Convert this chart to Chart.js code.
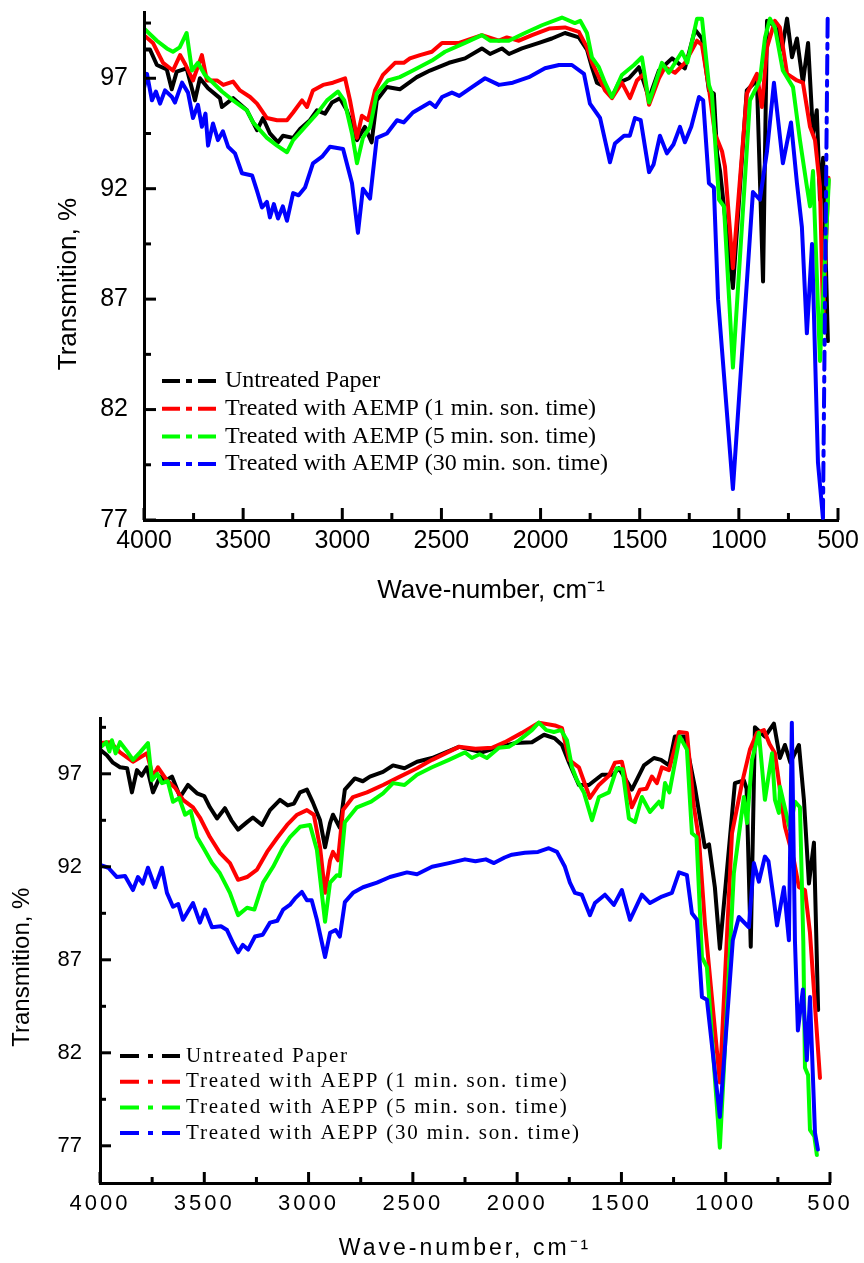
<!DOCTYPE html>
<html>
<head>
<meta charset="utf-8">
<script src="https://cdn.jsdelivr.net/npm/chart.js@4.4.1/dist/chart.umd.min.js"></script>
<style>
  body { margin: 0; background: #fff; }
  canvas { position: absolute; left: 0; }
  #chartAemp { top: 0; }
  #chartAepp { top: 640px; }
</style>
</head>
<body>
<canvas id="chartAemp" width="864" height="625"></canvas>
<canvas id="chartAepp" width="864" height="623"></canvas>
<script>
// tick values
const xMajorTicks = [4000, 3500, 3000, 2500, 2000, 1500, 1000, 500];
const xMinorTicks = [3750, 3250, 2750, 2250, 1750, 1250, 750];
const yMajorTicks = [77, 82, 87, 92, 97];
const yMinorTicks = [79.5, 84.5, 89.5, 94.5, 99.5];

const labelsAemp = ['Untreated Paper', 'Treated with AEMP (1 min. son. time)', 'Treated with AEMP (5 min. son. time)', 'Treated with AEMP (30 min. son. time)'];
const labelsAepp = ['Untreated Paper', 'Treated with AEPP (1 min. son. time)', 'Treated with AEPP (5 min. son. time)', 'Treated with AEPP (30 min. son. time)'];

// [wave-number, transmition %] (AEMP)
const aempUntreated = [[4000, 98.3], [3970, 98.3], [3935, 97.6], [3885, 97.4], [3860, 96.5], [3835, 97.3], [3785, 97.45], [3743, 96.0], [3718, 97.0], [3677, 96.55], [3617, 96.1], [3607, 95.7], [3550, 96.1], [3481, 95.55], [3430, 94.65], [3400, 95.2], [3365, 94.5], [3324, 94.1], [3299, 94.4], [3248, 94.3], [3213, 94.7], [3163, 95.1], [3128, 95.55], [3087, 95.4], [3052, 95.9], [3012, 96.1], [2977, 95.55], [2926, 94.2], [2886, 94.8], [2852, 94.1], [2826, 96.0], [2775, 96.6], [2710, 96.5], [2624, 97.05], [2558, 97.35], [2462, 97.7], [2381, 97.9], [2296, 98.35], [2255, 98.1], [2195, 98.35], [2159, 98.1], [2094, 98.35], [2008, 98.6], [1943, 98.8], [1877, 99.05], [1807, 98.85], [1766, 98.3], [1741, 97.5], [1716, 96.8], [1675, 96.6], [1640, 96.15], [1605, 96.8], [1554, 97.0], [1504, 97.5], [1453, 96.1], [1403, 97.35], [1337, 97.9], [1272, 97.45], [1221, 99.2], [1186, 98.8], [1151, 96.45], [1126, 96.3], [1110, 93.6], [1095, 92.8], [1030, 87.5], [960, 96.45], [909, 96.9], [878, 87.8], [858, 99.6], [808, 99.3], [783, 98.3], [757, 99.7], [732, 97.95], [707, 98.8], [677, 96.8], [651, 98.6], [626, 94.5], [607, 95.55], [591, 91.5], [575, 93.4], [551, 85.1]];
const aemp1min = [[4000, 98.95], [3955, 98.6], [3904, 97.7], [3854, 97.35], [3818, 98.05], [3790, 97.6], [3753, 96.9], [3708, 98.05], [3683, 96.9], [3632, 96.9], [3600, 96.7], [3551, 96.85], [3516, 96.45], [3465, 96.15], [3430, 95.85], [3380, 95.2], [3329, 95.1], [3279, 95.1], [3248, 95.45], [3203, 96.0], [3178, 95.7], [3148, 96.45], [3097, 96.7], [3047, 96.8], [2986, 97.0], [2961, 96.0], [2926, 94.3], [2901, 95.3], [2870, 95.1], [2835, 96.45], [2795, 97.15], [2734, 97.7], [2690, 97.7], [2659, 97.9], [2608, 98.05], [2548, 98.2], [2497, 98.6], [2411, 98.6], [2296, 98.95], [2210, 98.7], [2170, 98.85], [2109, 98.7], [2043, 98.95], [1957, 99.25], [1877, 99.3], [1807, 99.1], [1766, 98.4], [1740, 97.7], [1706, 97.05], [1675, 96.45], [1640, 96.1], [1590, 96.8], [1549, 96.1], [1514, 96.9], [1479, 97.2], [1453, 95.8], [1403, 97.0], [1373, 97.5], [1322, 97.25], [1272, 97.7], [1211, 98.7], [1186, 98.5], [1151, 96.55], [1121, 94.5], [1085, 93.7], [1070, 93.0], [1030, 88.4], [960, 96.3], [909, 97.2], [884, 95.7], [858, 98.4], [818, 99.6], [793, 99.3], [757, 97.2], [707, 96.9], [677, 96.8], [641, 94.8], [616, 94.2], [591, 92.1], [575, 86.0], [548, 92.5]];
const aemp5min = [[4000, 99.25], [3935, 98.7], [3885, 98.35], [3854, 98.2], [3820, 98.4], [3785, 99.05], [3758, 97.35], [3728, 97.7], [3693, 97.15], [3652, 96.8], [3607, 96.4], [3551, 96.0], [3481, 95.55], [3450, 95.0], [3380, 94.3], [3329, 93.95], [3279, 93.65], [3248, 94.2], [3198, 94.7], [3128, 95.4], [3077, 96.0], [3022, 96.4], [2990, 96.0], [2951, 94.5], [2926, 93.15], [2896, 94.3], [2860, 94.8], [2826, 96.3], [2770, 96.9], [2710, 97.05], [2644, 97.35], [2548, 97.8], [2482, 98.2], [2381, 98.6], [2296, 98.95], [2255, 98.7], [2160, 98.7], [2079, 99.05], [1993, 99.4], [1892, 99.75], [1827, 99.5], [1800, 99.6], [1766, 99.05], [1741, 97.95], [1706, 97.5], [1675, 96.8], [1640, 96.15], [1590, 97.15], [1529, 97.6], [1489, 97.95], [1453, 95.9], [1388, 97.7], [1353, 97.25], [1287, 98.2], [1260, 97.7], [1211, 99.7], [1186, 99.7], [1151, 96.7], [1136, 96.3], [1100, 91.5], [1075, 91.2], [1030, 83.9], [944, 96.0], [894, 96.9], [868, 98.85], [843, 99.7], [818, 99.3], [778, 97.35], [727, 96.6], [692, 94.2], [657, 92.1], [641, 91.2], [626, 92.8], [591, 84.2], [546, 92.4]];
const aemp30min = [[4000, 96.55], [3985, 97.2], [3960, 96.0], [3940, 96.4], [3919, 95.85], [3894, 96.45], [3859, 96.15], [3844, 95.9], [3808, 96.8], [3778, 96.35], [3753, 95.2], [3728, 95.8], [3708, 94.8], [3690, 95.4], [3677, 93.95], [3652, 94.95], [3627, 94.2], [3602, 94.6], [3576, 93.9], [3541, 93.6], [3506, 92.7], [3455, 92.6], [3430, 91.9], [3405, 91.15], [3380, 91.4], [3365, 90.7], [3345, 91.3], [3324, 90.65], [3300, 91.2], [3279, 90.55], [3248, 91.8], [3220, 91.7], [3188, 92.05], [3148, 93.15], [3102, 93.45], [3062, 93.9], [2996, 93.8], [2951, 92.25], [2921, 90.0], [2896, 92.0], [2860, 91.55], [2826, 94.3], [2775, 94.5], [2724, 95.1], [2690, 95.0], [2644, 95.45], [2558, 95.9], [2530, 95.7], [2497, 96.15], [2447, 96.35], [2410, 96.2], [2346, 96.6], [2280, 97.0], [2210, 96.7], [2140, 96.8], [2059, 97.05], [1978, 97.45], [1907, 97.6], [1842, 97.6], [1781, 97.2], [1751, 95.85], [1700, 95.2], [1675, 94.2], [1650, 93.2], [1625, 94.05], [1579, 94.4], [1550, 94.4], [1524, 95.2], [1495, 95.1], [1453, 92.75], [1430, 93.1], [1398, 94.4], [1363, 93.6], [1330, 94.0], [1297, 94.8], [1272, 94.1], [1240, 94.8], [1201, 96.15], [1180, 96.0], [1151, 92.25], [1126, 92.05], [1105, 87.0], [1030, 78.4], [929, 91.85], [894, 91.5], [858, 93.7], [823, 96.8], [778, 93.15], [737, 95.0], [707, 92.25], [682, 90.25], [657, 85.45], [631, 89.5], [601, 79.6], [576, 77.1], [552, 99.8]];

// bottom plot (AEPP)
const aeppUntreated = [[4000, 98.3], [3967, 98.0], [3938, 97.6], [3904, 97.35], [3870, 97.3], [3847, 96.0], [3823, 97.2], [3800, 96.9], [3775, 97.35], [3746, 96.0], [3712, 96.85], [3690, 96.6], [3655, 96.85], [3616, 95.75], [3578, 96.4], [3535, 95.95], [3500, 95.8], [3473, 95.2], [3439, 94.6], [3401, 95.15], [3370, 94.5], [3338, 94.0], [3295, 94.4], [3267, 94.65], [3223, 94.25], [3185, 95.05], [3137, 95.6], [3100, 95.3], [3070, 95.4], [3041, 96.0], [3008, 96.15], [2979, 95.45], [2945, 94.5], [2921, 93.05], [2897, 94.35], [2883, 94.8], [2850, 94.1], [2826, 96.15], [2778, 96.75], [2740, 96.6], [2706, 96.85], [2643, 97.1], [2595, 97.45], [2540, 97.3], [2480, 97.65], [2408, 97.85], [2279, 98.45], [2169, 98.15], [2100, 98.4], [2011, 98.65], [1929, 98.7], [1871, 99.1], [1819, 98.9], [1785, 98.55], [1751, 97.6], [1704, 96.4], [1656, 96.4], [1593, 96.95], [1540, 96.95], [1512, 97.3], [1450, 96.15], [1392, 97.45], [1344, 97.85], [1310, 97.75], [1272, 97.45], [1244, 99.0], [1196, 99.0], [1148, 96.3], [1100, 93.05], [1080, 93.2], [1052, 90.9], [1028, 87.6], [956, 96.5], [913, 96.65], [900, 96.2], [880, 87.7], [860, 99.5], [812, 99.0], [769, 99.7], [740, 97.85], [716, 98.55], [690, 97.6], [649, 98.55], [625, 95.6], [601, 91.1], [577, 93.3], [557, 84.3]];
const aepp1min = [[4000, 98.65], [3950, 98.7], [3904, 98.15], [3842, 97.65], [3775, 98.1], [3746, 96.85], [3722, 97.35], [3679, 96.65], [3640, 96.25], [3602, 95.6], [3554, 95.2], [3521, 94.65], [3473, 93.6], [3425, 92.75], [3377, 92.2], [3338, 91.3], [3295, 91.45], [3247, 91.85], [3199, 92.8], [3151, 93.55], [3103, 94.25], [3055, 94.8], [3008, 95.05], [2975, 94.8], [2945, 93.05], [2921, 90.6], [2897, 92.35], [2883, 92.8], [2859, 92.35], [2835, 95.05], [2787, 95.75], [2720, 96.0], [2643, 96.4], [2562, 96.85], [2480, 97.3], [2408, 97.75], [2279, 98.45], [2200, 98.35], [2121, 98.4], [2059, 98.7], [1977, 99.2], [1896, 99.75], [1819, 99.6], [1785, 99.45], [1751, 97.75], [1704, 97.35], [1651, 95.7], [1608, 96.4], [1560, 96.9], [1531, 97.6], [1498, 97.65], [1450, 95.2], [1411, 96.15], [1380, 96.2], [1354, 96.85], [1330, 96.5], [1306, 97.35], [1272, 97.2], [1224, 99.25], [1186, 99.2], [1152, 95.2], [1128, 93.45], [1100, 89.0], [1028, 80.4], [970, 93.8], [922, 96.5], [884, 98.3], [850, 99.2], [817, 99.35], [790, 98.6], [764, 98.1], [740, 96.15], [716, 94.15], [673, 92.35], [649, 90.9], [620, 90.75], [596, 88.45], [548, 80.65]];
const aepp5min = [[4000, 98.4], [3970, 98.7], [3955, 98.2], [3943, 98.8], [3925, 98.1], [3904, 98.7], [3870, 98.2], [3842, 97.75], [3808, 98.15], [3770, 98.65], [3751, 96.65], [3725, 97.0], [3703, 96.5], [3675, 96.6], [3650, 95.5], [3620, 95.7], [3592, 94.8], [3565, 95.0], [3535, 93.6], [3506, 93.05], [3463, 92.2], [3425, 91.65], [3377, 90.6], [3338, 89.4], [3295, 89.8], [3260, 89.7], [3218, 91.15], [3170, 92.0], [3122, 93.05], [3089, 93.6], [3041, 94.15], [2993, 94.25], [2960, 92.9], [2921, 89.05], [2897, 91.15], [2864, 91.55], [2850, 91.5], [2826, 94.4], [2768, 95.2], [2700, 95.5], [2643, 95.95], [2595, 96.5], [2540, 96.4], [2480, 96.95], [2408, 97.35], [2327, 97.75], [2250, 98.15], [2217, 97.85], [2180, 98.05], [2145, 97.85], [2087, 98.4], [2040, 98.45], [1991, 98.8], [1929, 99.35], [1896, 99.75], [1860, 99.35], [1824, 99.25], [1790, 99.35], [1761, 98.8], [1737, 97.35], [1713, 96.65], [1680, 96.0], [1641, 94.5], [1608, 95.75], [1560, 96.0], [1522, 97.3], [1495, 97.25], [1464, 94.6], [1435, 94.4], [1402, 95.75], [1363, 94.95], [1320, 95.5], [1305, 95.2], [1291, 96.5], [1270, 96.0], [1220, 99.0], [1186, 98.3], [1162, 93.8], [1140, 93.6], [1114, 87.15], [1090, 86.6], [1028, 76.9], [961, 91.65], [913, 95.75], [898, 94.35], [874, 97.75], [841, 99.2], [812, 95.6], [778, 98.1], [764, 95.6], [745, 94.9], [740, 96.3], [692, 94.0], [668, 95.5], [644, 95.2], [628, 88.0], [620, 81.2], [605, 80.8], [596, 77.85], [575, 77.5], [563, 76.5]];
const aepp30min = [[4000, 92.1], [3960, 91.95], [3919, 91.45], [3880, 91.5], [3842, 90.75], [3818, 91.45], [3795, 91.1], [3770, 91.95], [3736, 90.9], [3703, 91.95], [3679, 90.6], [3650, 89.85], [3625, 90.0], [3602, 89.15], [3554, 90.05], [3521, 89.0], [3497, 89.7], [3463, 88.75], [3420, 88.8], [3391, 88.6], [3362, 87.9], [3338, 87.4], [3315, 87.8], [3290, 87.55], [3257, 88.25], [3220, 88.35], [3185, 89.0], [3150, 89.1], [3122, 89.7], [3090, 89.95], [3065, 90.3], [3032, 90.65], [3008, 90.2], [2985, 90.2], [2960, 89.15], [2921, 87.15], [2897, 88.45], [2870, 88.6], [2850, 88.25], [2826, 90.1], [2787, 90.6], [2739, 90.9], [2672, 91.15], [2610, 91.45], [2528, 91.7], [2480, 91.6], [2408, 92.0], [2327, 92.2], [2250, 92.4], [2200, 92.3], [2150, 92.4], [2111, 92.2], [2060, 92.5], [2025, 92.65], [1963, 92.75], [1900, 92.8], [1848, 93.0], [1809, 92.8], [1771, 92.0], [1747, 91.15], [1723, 90.6], [1690, 90.5], [1651, 89.4], [1627, 90.05], [1579, 90.5], [1536, 89.95], [1498, 90.75], [1459, 89.15], [1402, 90.5], [1363, 90.05], [1306, 90.4], [1258, 90.6], [1224, 91.7], [1186, 91.55], [1162, 89.5], [1138, 89.15], [1114, 85.0], [1090, 84.85], [1028, 78.55], [966, 88.05], [937, 89.3], [889, 88.75], [865, 92.2], [841, 91.2], [812, 92.55], [795, 92.3], [769, 90.2], [754, 88.85], [721, 90.9], [697, 88.05], [683, 99.75], [668, 88.0], [654, 83.2], [630, 85.4], [611, 81.6], [596, 85.0], [572, 77.7], [558, 76.8]];

const colors = ['#000000', '#ff0000', '#00ff00', '#0000ff'];

// inward ticks, major and minor, on the left and bottom axes
const innerTicks = {
  id: 'innerTicks',
  afterDraw(chart, args, o) {
    const { ctx, chartArea: a, scales: { x, y } } = chart;
    ctx.save();
    ctx.strokeStyle = '#000';
    ctx.lineWidth = 3;
    const xMark = (vals, len) => vals.forEach(v => {
      const px = x.getPixelForValue(v);
      ctx.beginPath(); ctx.moveTo(px, a.bottom); ctx.lineTo(px, a.bottom - len); ctx.stroke();
    });
    const yMark = (vals, len) => vals.forEach(v => {
      const py = y.getPixelForValue(v);
      ctx.beginPath(); ctx.moveTo(a.left, py); ctx.lineTo(a.left + len, py); ctx.stroke();
    });
    xMark(xMajorTicks, o.major); xMark(xMinorTicks, o.minor);
    yMark(yMajorTicks, o.major); yMark(yMinorTicks, o.minor);
    ctx.restore();
  }
};

// legend drawn inside the plot, dash-dot samples
const specLegend = {
  id: 'specLegend',
  afterDraw(chart, args, o) {
    const ctx = chart.ctx;
    ctx.save();
    ctx.font = o.font;
    ctx.letterSpacing = o.spacing + 'px';
    ctx.textBaseline = 'middle';
    ctx.fillStyle = '#000';
    chart.data.datasets.forEach((ds, i) => {
      const yy = o.y + i * o.gap;
      ctx.strokeStyle = ds.borderColor;
      ctx.lineWidth = 4;
      ctx.setLineDash(o.dash);
      ctx.beginPath(); ctx.moveTo(o.x, yy); ctx.lineTo(o.x + o.len, yy); ctx.stroke();
      ctx.fillText(ds.label, o.x + o.len + 6, yy);
    });
    ctx.restore();
  }
};

// letter spacing for the x axis text (drawn before the datasets)
const spacedText = {
  id: 'spacedText',
  beforeDraw(chart, args, o) { chart.ctx.letterSpacing = o.px + 'px'; },
  beforeDatasetsDraw(chart) { chart.ctx.letterSpacing = '0px'; }
};

function makeDatasets(labels, series) {
  return series.map((pts, i) => ({
    label: labels[i],
    data: pts.map(p => ({ x: p[0], y: p[1] })),
    borderColor: colors[i],
    backgroundColor: colors[i],
    borderWidth: 4,
    borderJoinStyle: 'round',
    borderCapStyle: 'round',
    pointRadius: 0,
    fill: false,
    order: 4 - i
  }));
}

function makeOptions(s) {
  return {
    responsive: false,
    animation: false,
    events: [],
    layout: { padding: { left: 0, top: s.top, right: s.right, bottom: 0 } },
    scales: {
      x: {
        type: 'linear',
        reverse: true,
        min: 500,
        max: 4000,
        afterBuildTicks: sc => { sc.ticks = xMajorTicks.map(v => ({ value: v })); },
        afterFit: sc => { sc.height = s.xHeight; sc.paddingLeft = 0; sc.paddingRight = 0; },
        grid: { display: false, drawTicks: false },
        border: { color: '#000', width: 3 },
        ticks: {
          color: '#000',
          autoSkip: false,
          maxRotation: 0,
          padding: s.xPad,
          font: { family: 'Liberation Sans', size: s.tickSize },
          callback: v => String(v)
        },
        title: {
          display: true,
          text: 'Wave-number, cm\u207B\u00B9',
          color: '#000',
          font: { family: 'Liberation Sans', size: s.xTitleSize },
          padding: { top: 0, bottom: s.xTitlePad }
        }
      },
      y: {
        min: s.yMin,
        max: 100,
        afterBuildTicks: sc => { sc.ticks = yMajorTicks.map(v => ({ value: v })); },
        afterFit: sc => { sc.width = s.yWidth; sc.paddingTop = 0; sc.paddingBottom = 0; },
        grid: { display: false, drawTicks: false, z: 1 },
        border: { color: '#000', width: 3, z: 1 },
        ticks: {
          color: '#000',
          z: 1,
          padding: s.yPad,
          font: { family: 'Liberation Sans', size: s.yTickSize }
        },
        title: {
          display: true,
          text: 'Transmition, %     ',
          color: '#000',
          font: { family: 'Liberation Sans', size: s.yTitleSize },
          padding: { top: s.yTitlePad, bottom: 0 }
        }
      }
    },
    plugins: {
      legend: { display: false },
      tooltip: { enabled: false },
      innerTicks: { major: s.tickMajor, minor: s.tickMinor },
      specLegend: s.legend,
      spacedText: { px: s.spacing }
    }
  };
}

const aempSets = makeDatasets(labelsAemp, [aempUntreated, aemp1min, aemp5min, aemp30min]);
// last step of the 30 min curve is drawn dash-dot
aempSets[3].segment = {
  borderDash: c => c.p1DataIndex === aemp30min.length - 1 ? [18, 7, 5, 7] : undefined
};

new Chart(document.getElementById('chartAemp'), {
  type: 'line',
  data: { datasets: aempSets },
  options: makeOptions({
    top: 12, right: 26, xHeight: 105, yWidth: 144, yMin: 77,
    xPad: 6, tickSize: 25, yTickSize: 25, xTitleSize: 26, xTitlePad: 19,
    yPad: 16, yTitleSize: 26, yTitlePad: 53,
    tickMajor: 12, tickMinor: 7, spacing: 0,
    legend: { x: 162, y: 381, gap: 27.7, len: 57, dash: [18, 6, 6, 6], font: '24px "Liberation Serif"', spacing: 0 }
  }),
  plugins: [innerTicks, specLegend, spacedText]
});

new Chart(document.getElementById('chartAepp'), {
  type: 'line',
  data: { datasets: makeDatasets(labelsAepp, [aeppUntreated, aepp1min, aepp5min, aepp30min]) },
  options: makeOptions({
    top: 78, right: 34, xHeight: 80, yWidth: 100, yMin: 75,
    xPad: 8, tickSize: 22, yTickSize: 22, xTitleSize: 23, xTitlePad: 1,
    yPad: 18, yTitleSize: 24, yTitlePad: 8,
    tickMajor: 11, tickMinor: 6, spacing: 3,
    legend: { x: 120, y: 416, gap: 25.7, len: 60, dash: [19, 9, 5, 9], font: '21px "Liberation Serif"', spacing: 1.8 }
  }),
  plugins: [innerTicks, specLegend, spacedText]
});
</script>
</body>
</html>
